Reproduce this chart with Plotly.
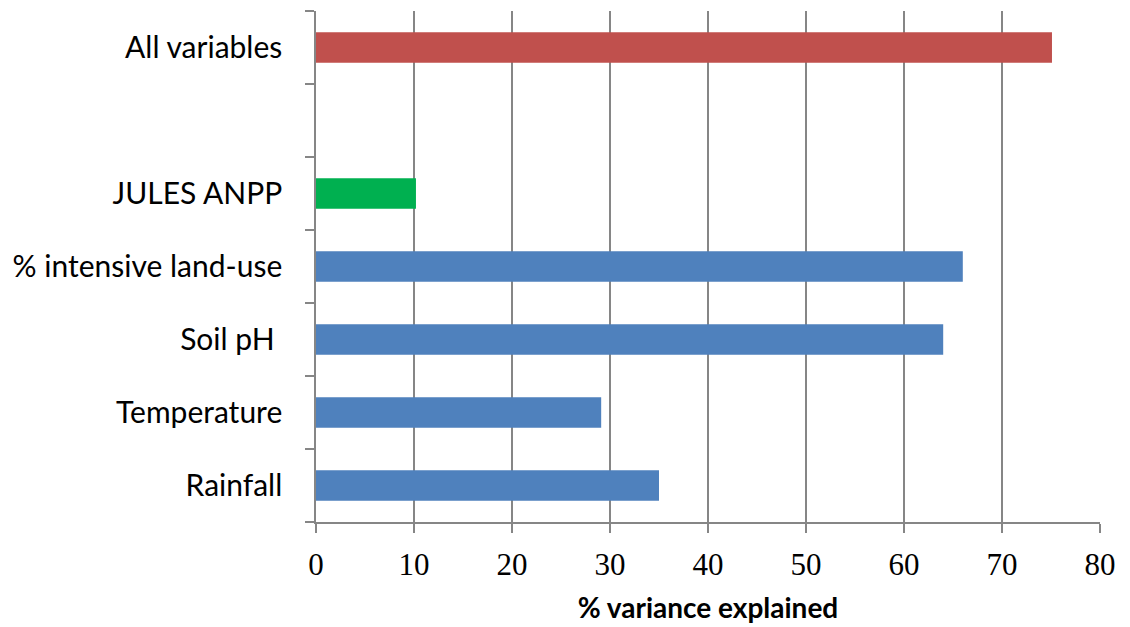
import plotly.graph_objects as go

# Variance explained by each predictor (bottom to top)
categories = ["Rainfall", "Temperature", "Soil pH ", "% intensive land-use", "JULES ANPP", " ", "All variables"]
variance = [35.0, 29.1, 64.0, 66.0, 10.2, None, 75.1]
bar_colors = ["#4F81BD", "#4F81BD", "#4F81BD", "#4F81BD", "#00B050", "#4F81BD", "#C0504D"]
x_ticks = [0, 10, 20, 30, 40, 50, 60, 70, 80]

fig = go.Figure(
    go.Bar(
        y=categories,
        x=variance,
        orientation="h",
        marker=dict(color=bar_colors, line=dict(width=0)),
        width=0.42,
        hoverinfo="x+y",
    )
)

fig.update_layout(
    width=1130,
    height=627,
    margin=dict(l=316, r=30, t=11, b=105),
    paper_bgcolor="white",
    plot_bgcolor="white",
    showlegend=False,
)

fig.update_xaxes(
    range=[0, 80],
    tickvals=x_ticks,
    ticks="outside",
    ticklen=9,
    tickcolor="#868686",
    tickwidth=1.5,
    showgrid=True,
    gridcolor="#868686",
    gridwidth=1.5,
    showline=True,
    linecolor="#868686",
    linewidth=1.5,
    zeroline=False,
    automargin=False,
    ticklabelstandoff=5,
    tickfont=dict(family="Liberation Serif, DejaVu Serif, serif", size=31, color="black"),
    title=dict(
        text="<b>% variance explained</b>",
        font=dict(family="Lato, Open Sans, sans-serif", size=28, color="black"),
        standoff=17,
    ),
)

fig.update_yaxes(
    type="category",
    categoryorder="array",
    categoryarray=categories,
    tickson="boundaries",
    ticks="outside",
    ticklen=9,
    tickcolor="#868686",
    tickwidth=1.5,
    showline=True,
    linecolor="#868686",
    linewidth=1.5,
    showgrid=False,
    automargin=False,
    ticklabelstandoff=26,
    tickfont=dict(family="Lato, Open Sans, sans-serif", size=30, color="black"),
)

fig.write_html("out.html")
